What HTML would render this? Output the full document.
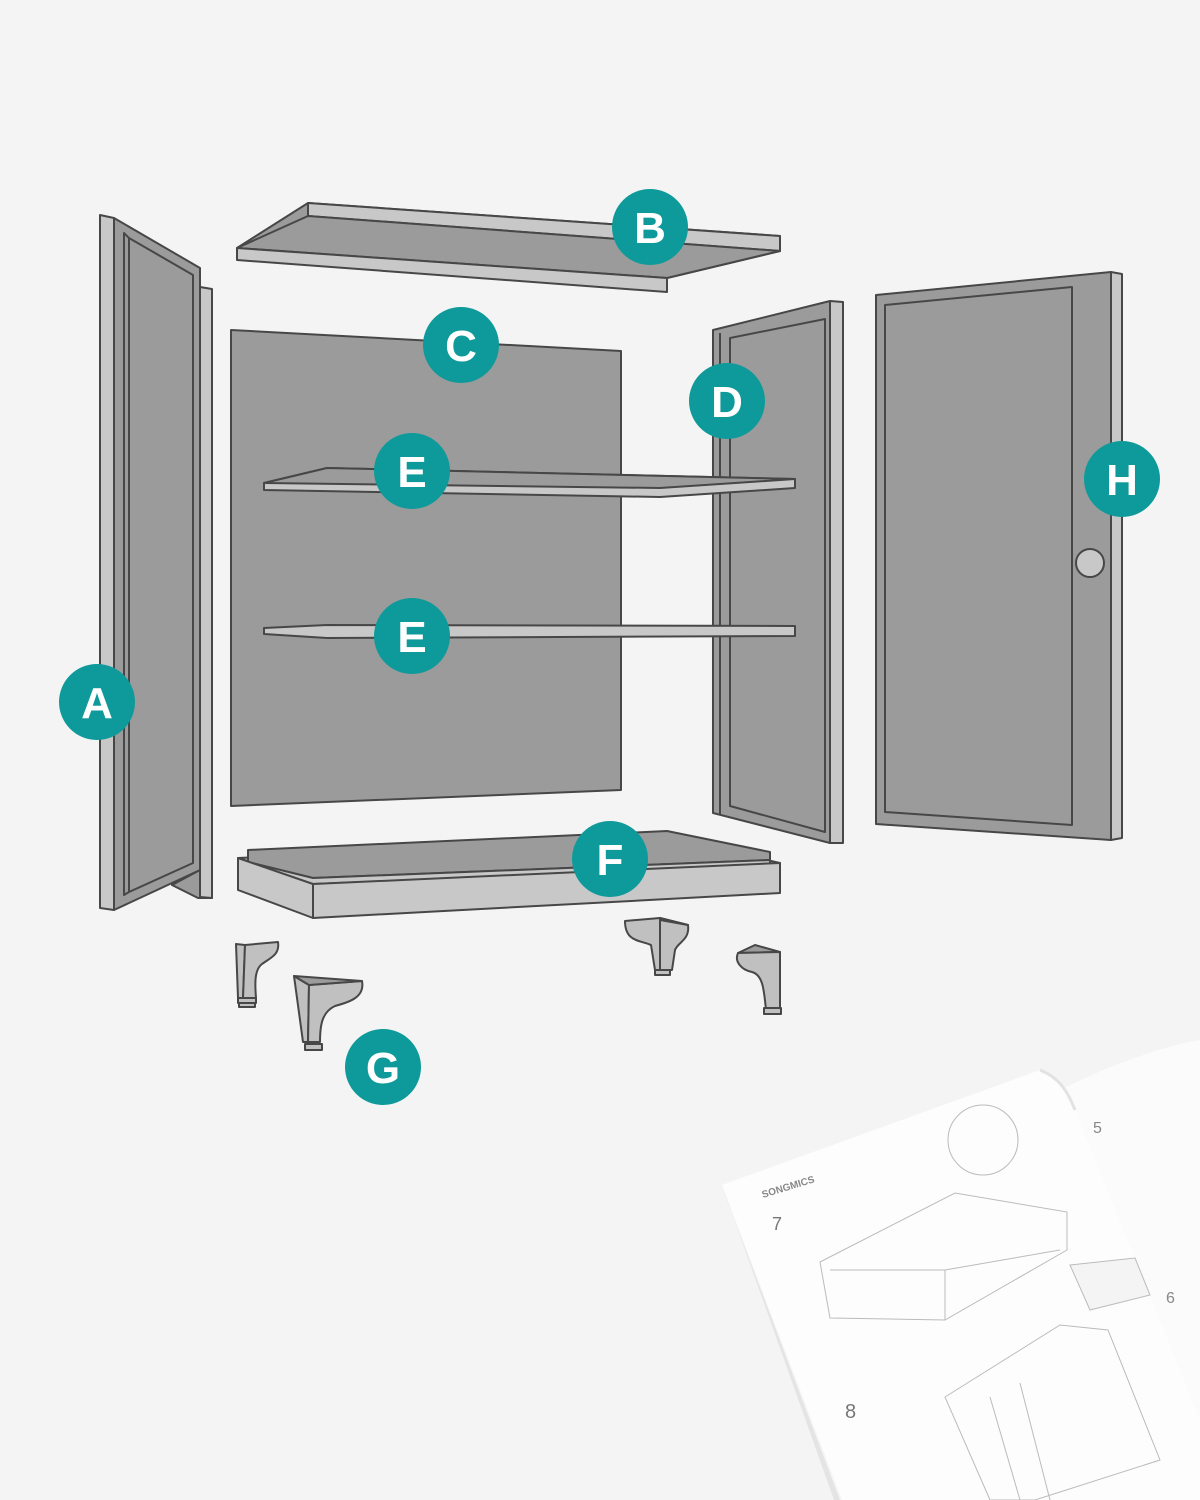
<!DOCTYPE html>
<html><head><meta charset="utf-8"><style>
html,body{margin:0;padding:0;background:#f4f4f4;}
svg{display:block}
text{font-family:"Liberation Sans",sans-serif;}
</style></head><body>
<svg width="1200" height="1500" viewBox="0 0 1200 1500" xmlns="http://www.w3.org/2000/svg">
<rect width="1200" height="1500" fill="#f4f4f4"/>
<g stroke="#474747" stroke-width="2" stroke-linejoin="round">
<!-- Door A -->
<polygon points="172,885 200,870 212,898 198,898" fill="#9b9b9b"/>
<polygon points="200,287 212,289 212,898 200,897" fill="#c8c8c8"/>
<polygon points="100,215 114,218 114,910 100,908" fill="#c8c8c8"/>
<polygon points="114,218 200,268 200,870 114,910" fill="#9b9b9b"/>
<polygon points="129,238 193,275 193,863 129,892" fill="#9b9b9b"/>
<polygon points="124,233 129,238 129,892 124,895" fill="#9b9b9b"/>
<!-- Top B -->
<polygon points="237,248 308,203 780,236 780,251 667,278" fill="#9b9b9b"/>
<polygon points="308,203 780,236 780,251 308,216" fill="#c8c8c8"/>
<polygon points="237,248 308,216 780,251 667,278" fill="#9b9b9b"/>
<polygon points="237,248 667,278 667,292 237,260" fill="#c8c8c8"/>
<!-- Back panel C -->
<polygon points="231,330 621,351 621,790 231,806" fill="#9b9b9b"/>
<!-- Door D -->
<polygon points="830,301 843,302 843,843 830,843" fill="#c8c8c8"/>
<polygon points="713,330 830,301 830,843 713,813" fill="#9b9b9b"/>
<polygon points="730,338 825,319 825,832 730,806" fill="#9b9b9b"/>
<line x1="720" y1="333" x2="720" y2="815"/>
<!-- Shelves E -->
<polygon points="264,483 327,468 795,479 795,488 660,497 264,490" fill="#c8c8c8"/>
<polygon points="264,483 327,468 795,479 660,488" fill="#9b9b9b"/>
<polygon points="264,628 327,625 795,626 795,636 327,638 264,634" fill="#c8c8c8"/>
<!-- Door H -->
<polygon points="876,295 1111,272 1111,840 876,824" fill="#9b9b9b"/>
<polygon points="885,305 1072,287 1072,825 885,812" fill="#9b9b9b"/>
<polygon points="1111,272 1122,274 1122,838 1111,840" fill="#c8c8c8"/>
<circle cx="1090" cy="563" r="14" fill="#c8c8c8"/>
<!-- Base F -->
<polygon points="238,858 670,838 780,863 313,882" fill="#c8c8c8"/>
<polygon points="248,850 667,831 770,852 770,860 313,878 248,862" fill="#9b9b9b"/>
<polygon points="248,862 313,878 770,860 770,866 313,884 248,868" fill="#c8c8c8"/>
<polygon points="313,884 780,863 780,893 313,918" fill="#c8c8c8"/>
<polygon points="238,858 313,884 313,918 238,890" fill="#c8c8c8"/>
<!-- Legs -->
<g fill="#c0c0c0">
<polygon points="236,944 245,945 243,998 238,998"/>
<path d="M245,945 L278,942 C280,955 270,958 262,964 C254,970 255,985 256,998 L243,998 Z"/>
<rect x="238" y="998" width="18" height="5"/>
<rect x="239" y="1003" width="16" height="4"/>
<polygon points="294,976 309,985 308,1042 303,1042"/>
<path d="M309,985 L362,981 C365,997 350,1002 335,1006 C322,1012 320,1025 320,1042 L308,1042 Z"/>
<polygon points="294,976 362,981 309,985" fill="#9b9b9b"/>
<rect x="305" y="1044" width="17" height="6"/>
<path d="M625,921 L660,918 L688,925 C690,940 678,942 675,950 L672,970 L655,970 L651,945 C640,940 625,942 625,921 Z"/>
<line x1="660" y1="920" x2="660" y2="970"/>
<polygon points="660,918 688,925 660,920" fill="#9b9b9b"/>
<rect x="655" y="970" width="15" height="5"/>
<polygon points="738,953 755,945 780,952" fill="#9b9b9b"/>
<path d="M738,953 L780,952 L780,1010 L766,1010 C764,990 763,975 752,972 C742,970 734,962 738,953 Z"/>
<rect x="764" y="1008" width="17" height="6"/>
</g>
</g>
<!-- Booklet -->
<g>
<path d="M1060,1090 C1120,1060 1170,1045 1200,1040 L1200,1500 L1080,1500 Z" fill="#fbfbfb"/>
<path d="M722,1185 L1040,1070 C1060,1075 1068,1090 1075,1110 L1200,1420 L1200,1500 L842,1500 Z" fill="#fdfdfd"/>
<path d="M722,1185 L727,1200 L840,1500 L834,1500 Z" fill="#e4e4e4"/>
<path d="M1040,1070 C1060,1078 1068,1092 1075,1110" stroke="#e2e2e2" stroke-width="3" fill="none"/>
<g stroke="#bbbbbb" stroke-width="1" fill="none">
<polygon points="820,1262 955,1193 1067,1212 1067,1250 945,1320 830,1318"/>
<line x1="830" y1="1270" x2="945" y2="1270"/><line x1="945" y1="1270" x2="945" y2="1320"/>
<line x1="945" y1="1270" x2="1060" y2="1250"/>
<circle cx="983" cy="1140" r="35"/>
<polygon points="945,1397 1060,1325 1108,1330 1160,1460 1035,1500 990,1500"/>
<line x1="990" y1="1397" x2="1020" y2="1500"/>
<line x1="1020" y1="1383" x2="1050" y2="1500"/>
<polygon points="1070,1265 1135,1258 1150,1295 1090,1310" fill="#f4f4f4"/>
</g>
<text x="763" y="1198" font-size="10" font-weight="bold" fill="#888" transform="rotate(-17 763 1198)">SONGMICS</text>
<text x="772" y="1230" font-size="18" fill="#777">7</text>
<text x="845" y="1418" font-size="20" fill="#777">8</text>
<text x="1093" y="1133" font-size="16" fill="#888">5</text>
<text x="1166" y="1303" font-size="16" fill="#888">6</text>
</g>
<!-- Labels -->
<g fill="#0e9a9a">
<circle cx="97" cy="702" r="38"/><circle cx="650" cy="227" r="38"/>
<circle cx="461" cy="345" r="38"/><circle cx="727" cy="401" r="38"/>
<circle cx="412" cy="471" r="38"/><circle cx="412" cy="636" r="38"/>
<circle cx="610" cy="859" r="38"/><circle cx="383" cy="1067" r="38"/>
<circle cx="1122" cy="479" r="38"/>
</g>
<g fill="#fff" font-size="44" font-weight="bold" text-anchor="middle">
<text x="97" y="718">A</text><text x="650" y="243">B</text>
<text x="461" y="361">C</text><text x="727" y="417">D</text>
<text x="412" y="487">E</text><text x="412" y="652">E</text>
<text x="610" y="875">F</text><text x="383" y="1083">G</text>
<text x="1122" y="495">H</text>
</g>
</svg>
</body></html>
